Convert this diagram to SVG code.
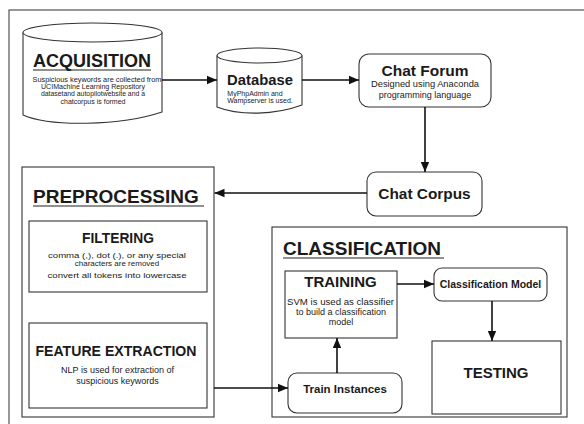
<svg xmlns="http://www.w3.org/2000/svg" width="584" height="424" viewBox="0 0 584 424">
<style>
text{font-family:"Liberation Sans",Arial,sans-serif;fill:#1a1a1a;text-anchor:middle}
.b{font-weight:bold}
.st{text-anchor:start}
.box{fill:#fff;stroke:#333;stroke-width:1.1}
.conn{stroke:#111;stroke-width:1.6;fill:none;marker-end:url(#ah)}
.ul{stroke:#222;stroke-width:1.2}
.s{font-size:7px}
.m{font-size:9px}
.f{font-size:8px}
</style>
<defs>
<marker id="ah" markerUnits="userSpaceOnUse" markerWidth="10" markerHeight="10" viewBox="0 0 10 10" refX="10" refY="5" orient="auto">
<path d="M0,0.8 L10,5 L0,9.2 Z" fill="#111"/>
</marker>
</defs>
<rect width="584" height="424" fill="#fff"/>
<rect x="9" y="10" width="600" height="440" fill="none" stroke="#444" stroke-width="1.1"/>

<g id="acquisition">
<path class="box" d="M23,32.5 L23,115 C50,127 120,126 162,112 L162,32.5"/>
<ellipse class="box" cx="92.5" cy="32.5" rx="69.5" ry="9.5"/>
<text class="b" x="92" y="67" font-size="18">ACQUISITION</text>
<line class="ul" x1="33" y1="70" x2="151" y2="70"/>
<text class="s" x="97" y="82" textLength="129" lengthAdjust="spacingAndGlyphs">Suspicious keywords are collected from</text>
<text class="s" x="93" y="89" textLength="104" lengthAdjust="spacingAndGlyphs">UCIMachine Learning Repository</text>
<text class="s" x="93" y="96" textLength="104" lengthAdjust="spacingAndGlyphs">datasetand  autopilotwebsite and a</text>
<text class="s" x="93" y="104">chatcorpus is formed</text>
</g>

<g id="database">
<path class="box" d="M217,55.5 L217,107 C240,116 275,115 302,105 L302,55.5"/>
<ellipse class="box" cx="259.5" cy="55.5" rx="42.5" ry="7.5"/>
<text class="b" x="260" y="85" font-size="14.8">Database</text>
<text class="s" x="255" y="96">MyPhpAdmin and</text>
<text class="s" x="260" y="103">Wampserver  is used.</text>
</g>

<g id="chat-forum">
<rect class="box" x="359" y="54" width="132" height="53" rx="10"/>
<text class="b" x="425" y="76" font-size="15.5">Chat Forum</text>
<text class="m" x="425" y="87" textLength="108" lengthAdjust="spacingAndGlyphs">Designed using Anaconda</text>
<text class="m" x="425" y="98">programming language</text>
</g>

<g id="chat-corpus">
<rect class="box" x="367" y="172" width="115" height="44" rx="9"/>
<text class="b" x="424.5" y="199" font-size="15.4">Chat Corpus</text>
</g>

<g id="preprocessing">
<rect class="box" x="22" y="167" width="192" height="250"/>
<text class="b st" x="33" y="203" font-size="19">PREPROCESSING</text>
<line class="ul" x1="33" y1="206" x2="204" y2="206"/>
</g>

<g id="filtering">
<rect class="box" x="29" y="221" width="178" height="71"/>
<text class="b" x="118" y="243" font-size="13.8">FILTERING</text>
<text class="f" x="117" y="258" textLength="138" lengthAdjust="spacingAndGlyphs">comma (,), dot (.), or any special</text>
<text class="f" x="117" y="266">characters  are removed</text>
<text class="f" x="117" y="278" textLength="139" lengthAdjust="spacingAndGlyphs">convert all tokens into lowercase</text>
</g>

<g id="feature-extraction">
<rect class="box" x="29" y="323" width="178" height="85"/>
<text class="b" x="116" y="356" font-size="14.1">FEATURE EXTRACTION</text>
<text class="m" x="117.5" y="373">NLP is used for extraction of</text>
<text class="m" x="117.5" y="384">suspicious keywords</text>
</g>

<g id="classification">
<rect class="box" x="272" y="227" width="295" height="190"/>
<text class="b st" x="283" y="255" font-size="19">CLASSIFICATION</text>
<line class="ul" x1="283" y1="258" x2="444" y2="258"/>
</g>

<g id="training">
<rect class="box" x="285" y="271" width="112" height="67"/>
<text class="b" x="340.5" y="287" font-size="15">TRAINING</text>
<text class="m" x="340.5" y="305" textLength="107" lengthAdjust="spacingAndGlyphs">SVM is used as classifier</text>
<text class="m" x="341" y="315">to build a classification</text>
<text class="m" x="341" y="325">model</text>
</g>

<g id="classification-model">
<rect class="box" x="434" y="268" width="113" height="33" rx="8"/>
<text class="b" x="490.5" y="288" font-size="10.5">Classification Model</text>
</g>

<g id="testing">
<rect class="box" x="432" y="341" width="129" height="73"/>
<text class="b" x="496" y="378" font-size="15">TESTING</text>
</g>

<g id="train-instances">
<rect class="box" x="288" y="373" width="114" height="40" rx="9"/>
<text class="b" x="345" y="393" font-size="11.5">Train Instances</text>
</g>

<g id="connectors">
<line class="conn" x1="162" y1="80" x2="217" y2="80"/>
<line class="conn" x1="302" y1="80" x2="359" y2="80"/>
<line class="conn" x1="425" y1="107" x2="425" y2="172"/>
<line class="conn" x1="367" y1="193" x2="214.5" y2="193"/>
<line class="conn" x1="397" y1="284" x2="434" y2="284"/>
<line class="conn" x1="492" y1="301" x2="492" y2="341"/>
<line class="conn" x1="337" y1="373" x2="337" y2="338"/>
<line class="conn" x1="214" y1="388" x2="288" y2="388"/>
</g>
</svg>
